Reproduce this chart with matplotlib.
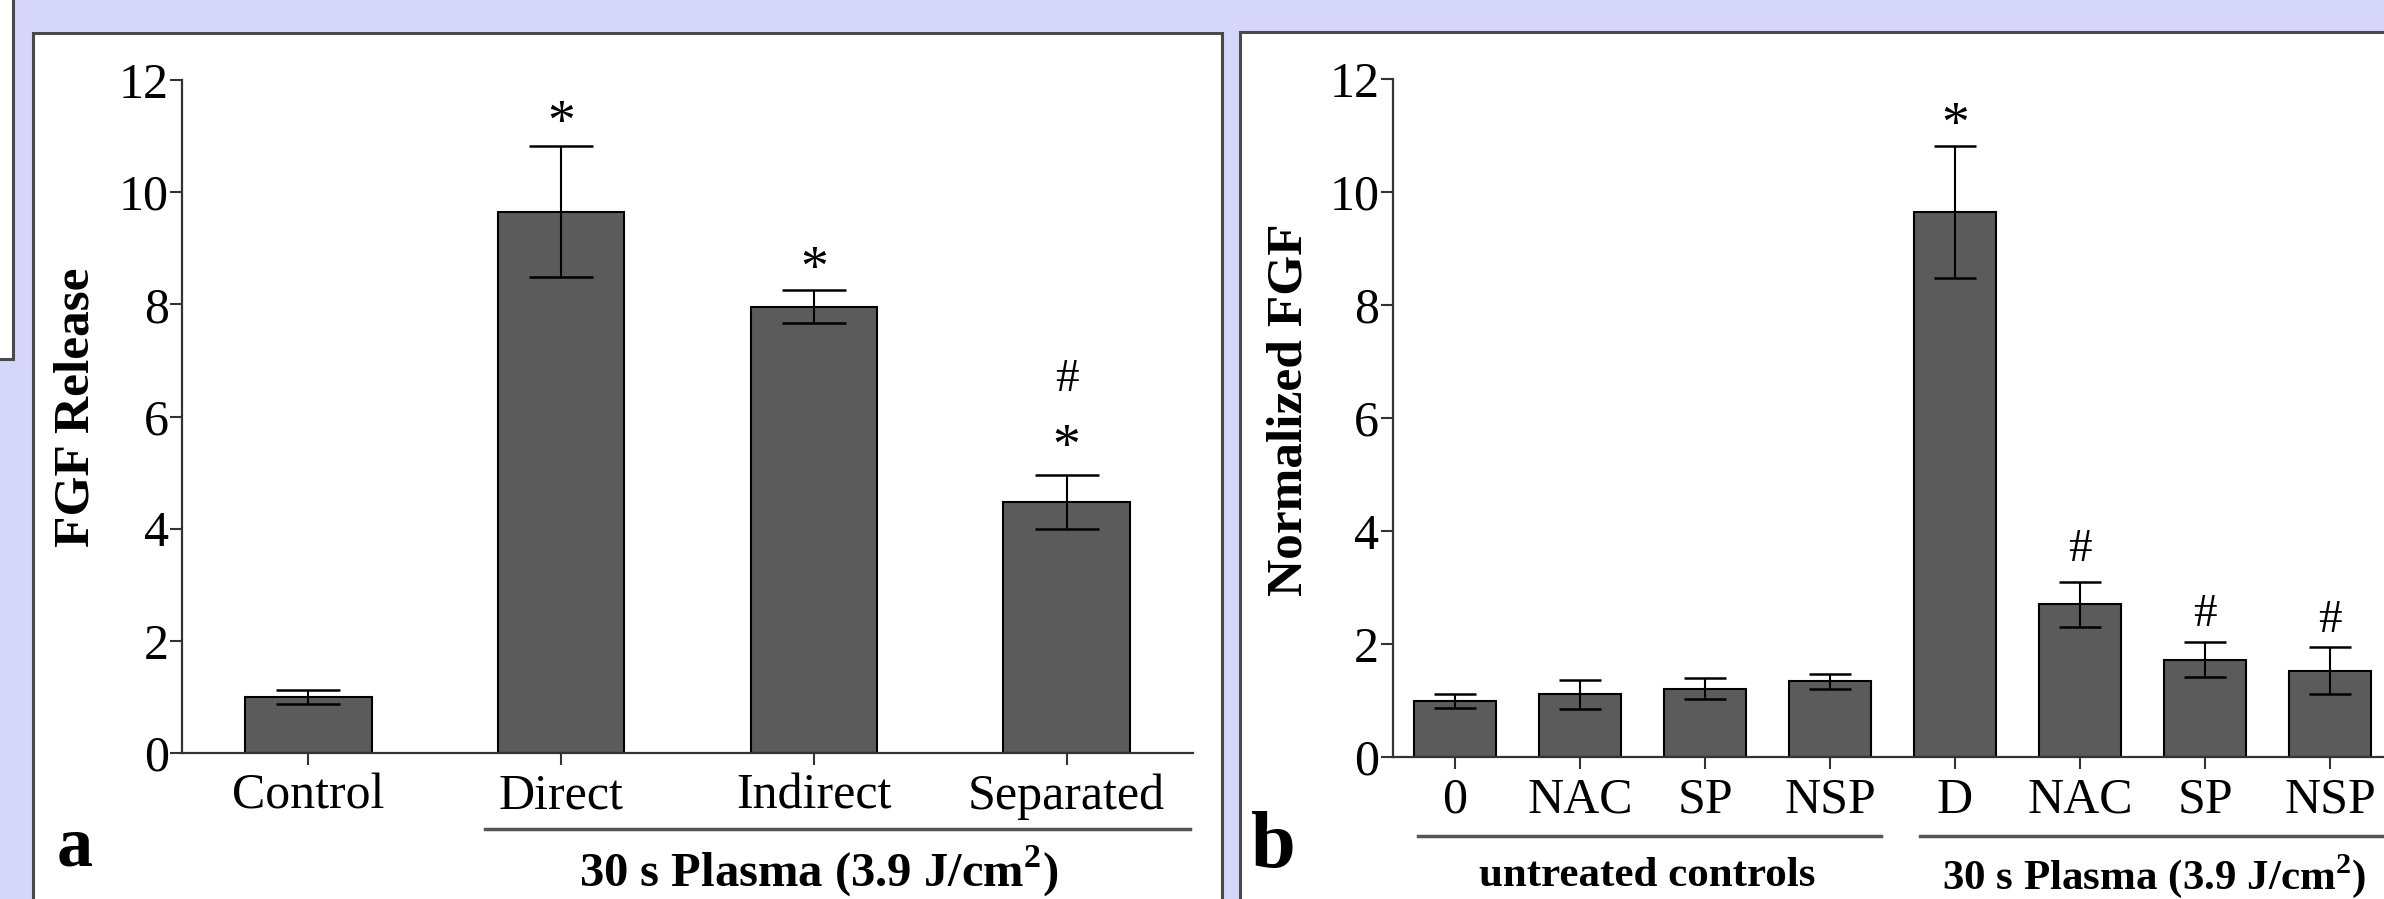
import matplotlib
matplotlib.use('Agg')
import matplotlib.pyplot as plt
import matplotlib.transforms as mtransforms
from matplotlib.patches import Rectangle
from matplotlib.lines import Line2D

plt.rcParams['font.family'] = ['Liberation Serif', 'DejaVu Serif']
plt.rcParams['mathtext.fontset'] = 'custom'
plt.rcParams['mathtext.rm'] = 'Liberation Serif'
plt.rcParams['mathtext.bf'] = 'Liberation Serif:bold'

# ---------------- data ----------------
a_categories = ['Control', 'Direct', 'Indirect', 'Separated']
a_values = [1.00, 9.65, 7.96, 4.47]
a_errors = [0.12, 1.17, 0.29, 0.48]
a_marks = ['', '*', '*', '*']
a_marks_y = [None, 11.2, 8.6, 5.42]
a_marks2 = ['', '', '', '#']
a_marks2_y = [None, None, None, 6.65]
a_ylabel = 'FGF Release'
a_group = r'30 s Plasma (3.9 J/cm$^\mathbf{2}$)'

b_categories = ['0', 'NAC', 'SP', 'NSP', 'D', 'NAC', 'SP', 'NSP']
b_values = [0.99, 1.11, 1.21, 1.34, 9.64, 2.70, 1.72, 1.53]
b_errors = [0.12, 0.26, 0.19, 0.13, 1.17, 0.40, 0.31, 0.41]
b_marks = ['', '', '', '', '*', '#', '#', '#']
b_marks_y = [None, None, None, None, 11.15, 3.66, 2.52, 2.42]
b_ylabel = 'Normalized FGF'
b_group1 = 'untreated controls'
b_group2 = r'30 s Plasma (3.9 J/cm$^\mathbf{2}$)'

yticks = [0, 2, 4, 6, 8, 10, 12]

# ---------------- figure ----------------
W, H = 2384, 899
fig = plt.figure(figsize=(W / 100, H / 100), dpi=100, facecolor='#d6d6fb')


def box(x0, y0, x1, y1):
    r = Rectangle((x0 / W, 1 - y1 / H), (x1 - x0) / W, (y1 - y0) / H,
                  transform=fig.transFigure, facecolor='white',
                  edgecolor='#4a4a4a', linewidth=2.2, zorder=-10)
    fig.patches.append(r)


box(-20, -20, 13, 359)
box(33, 33, 1222, 930)
box(1240, 32, 2430, 930)

BAR_COLOR = '#5b5b5b'
AX_COLOR = '#333333'
FS = 36


def style_axes(ax):
    ax.set_facecolor('none')
    for s in ['top', 'right']:
        ax.spines[s].set_visible(False)
    for s in ['left', 'bottom']:
        ax.spines[s].set_linewidth(1.6)
        ax.spines[s].set_color(AX_COLOR)
    ax.set_ylim(0, 12)
    ax.set_yticks(yticks)
    ax.tick_params(axis='both', direction='out', length=8.6, width=1.5,
                   color=AX_COLOR, labelsize=FS)
    ax.tick_params(axis='y', pad=1)
    ax.tick_params(axis='x', pad=6)


# ---------------- panel a ----------------
axa = fig.add_axes([182 / W, 146 / H, (1193 - 182) / W, (753 - 80) / H])
style_axes(axa)
xa = list(range(len(a_categories)))
axa.bar(xa, a_values, width=0.5, color=BAR_COLOR, edgecolor='black',
        linewidth=1.5, zorder=2)
axa.errorbar(xa, a_values, yerr=a_errors, fmt='none', ecolor='black',
             elinewidth=1.5, capsize=23, capthick=1.8, zorder=3)
axa.set_xlim(-0.5, len(a_categories) - 0.5)
axa.set_xticks(xa)
axa.set_xticklabels(a_categories)
axa.set_ylabel(a_ylabel, fontsize=37, fontweight='bold')
axa.yaxis.set_label_coords(-0.082, 0.514)
for i in xa:
    if a_marks[i]:
        axa.text(i, a_marks_y[i], a_marks[i], ha='center', va='center', fontsize=40)
    if a_marks2[i]:
        axa.text(i, a_marks2_y[i], a_marks2[i], ha='center', va='center', fontsize=34)
ta = mtransforms.blended_transform_factory(axa.transData, axa.transAxes)
axa.add_line(Line2D([1 - 0.30, 3 + 0.49], [-0.113, -0.113], transform=ta,
                    color='#555555', lw=2.5, clip_on=False))
axa.text(2.02, -0.176, a_group, transform=ta, ha='center', va='center',
         fontsize=35, fontweight='bold')
fig.text(75 / W, 1 - 848 / H, 'a', ha='center', va='center', fontsize=52,
         fontweight='bold')

# ---------------- panel b ----------------
axb = fig.add_axes([1392.5 / W, 142 / H, 1000 / W, (757 - 79) / H])
style_axes(axb)
xb = list(range(len(b_categories)))
axb.bar(xb, b_values, width=0.66, color=BAR_COLOR, edgecolor='black',
        linewidth=1.5, zorder=2)
axb.errorbar(xb, b_values, yerr=b_errors, fmt='none', ecolor='black',
             elinewidth=1.5, capsize=15, capthick=1.8, zorder=3)
axb.set_xlim(-0.5, len(b_categories) - 0.5)
axb.set_xticks(xb)
axb.set_xticklabels(b_categories)
axb.set_ylabel(b_ylabel, fontsize=37, fontweight='bold')
axb.yaxis.set_label_coords(-0.080, 0.512)
for i in xb:
    if b_marks[i]:
        fs = 40 if b_marks[i] == '*' else 34
        axb.text(i, b_marks_y[i], b_marks[i], ha='center', va='center', fontsize=fs)
tb = mtransforms.blended_transform_factory(axb.transData, axb.transAxes)
axb.add_line(Line2D([-0.30, 3.41], [-0.1165, -0.1165], transform=tb,
                    color='#555555', lw=2.5, clip_on=False))
axb.add_line(Line2D([3.72, 7.6], [-0.1165, -0.1165], transform=tb,
                    color='#555555', lw=2.5, clip_on=False))
axb.text(1.54, -0.175, b_group1, transform=tb, ha='center', va='center',
         fontsize=31, fontweight='bold')
axb.text(5.59, -0.175, b_group2, transform=tb, ha='center', va='center',
         fontsize=31, fontweight='bold')
fig.text(1273 / W, 1 - 847 / H, 'b', ha='center', va='center', fontsize=58,
         fontweight='bold')

fig.savefig('out.png', dpi=100, facecolor=fig.get_facecolor())
